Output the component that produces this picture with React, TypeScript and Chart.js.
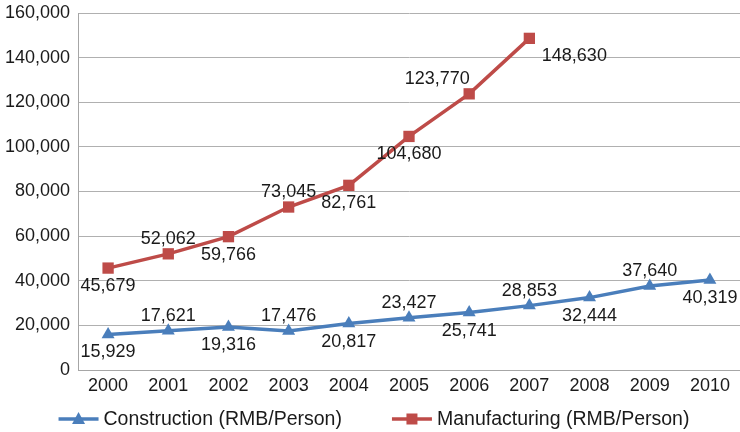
import React, { useEffect, useRef } from "react";
import { Chart, registerables } from "chart.js";

Chart.register(...registerables);

const years = ["2000", "2001", "2002", "2003", "2004", "2005", "2006", "2007", "2008", "2009", "2010"];
const construction = [15929, 17621, 19316, 17476, 20817, 23427, 25741, 28853, 32444, 37640, 40319];
const manufacturing = [45679, 52062, 59766, 73045, 82761, 104680, 123770, 148630];
const constructionLabelPos = ["below", "above", "below", "above", "below", "above", "below", "above", "below", "above", "below"];
const manufacturingLabelPos = ["below", "above", "below", "above", "below", "below", "aboveLeft", "belowRight"];
const seriesNames = ["Construction (RMB/Person)", "Manufacturing (RMB/Person)"];

const BLUE = "#4A7EBB";
const RED = "#BE4B48";
const FONT = "'Liberation Sans', Arial, sans-serif";
const FS = 18;
const LEGEND_FS = 19.5;

const OFFSETS: Record<string, [number, number]> = {
  above: [0, -15],
  below: [0, 18],
  aboveLeft: [-32, -15],
  belowRight: [45, 18],
};

const fmt = (v: number) => v.toLocaleString("en-US");

function drawMarker(ctx: CanvasRenderingContext2D, style: string, x: number, y: number) {
  ctx.beginPath();
  if (style === "triangle") {
    ctx.moveTo(x, y - 7);
    ctx.lineTo(x + 6.5, y + 5);
    ctx.lineTo(x - 6.5, y + 5);
    ctx.closePath();
  } else {
    ctx.rect(x - 5.5, y - 5.5, 11, 11);
  }
  ctx.fill();
}

const labelPlugin = {
  id: "valueLabels",
  afterDatasetsDraw(chart: any) {
    const ctx = chart.ctx;
    const positions = [constructionLabelPos, manufacturingLabelPos];
    ctx.save();
    ctx.font = `${FS}px ${FONT}`;
    ctx.fillStyle = "#1a1a1a";
    ctx.textAlign = "center";
    ctx.textBaseline = "middle";
    chart.data.datasets.forEach((ds: any, di: number) => {
      const meta = chart.getDatasetMeta(di);
      meta.data.forEach((pt: any, i: number) => {
        const v = ds.data[i];
        if (v == null) return;
        const [dx, dy] = OFFSETS[positions[di][i]] || [0, -15];
        ctx.fillText(fmt(v), pt.x + dx, pt.y + dy);
      });
    });
    ctx.restore();
  },
};

const legendPlugin = {
  id: "lineLegend",
  afterDraw(chart: any) {
    const ctx = chart.ctx;
    const y = 419;
    const iconW = 40;
    const textGap = 5;
    const itemGap = 50;
    ctx.save();
    ctx.font = `${LEGEND_FS}px ${FONT}`;
    const widths = chart.data.datasets.map((ds: any) => ctx.measureText(ds.label).width);
    const total = widths.reduce((a: number, w: number) => a + iconW + textGap + w, 0) + itemGap * (widths.length - 1);
    let x = (chart.width - total) / 2 + 4;
    chart.data.datasets.forEach((ds: any, i: number) => {
      ctx.strokeStyle = ds.borderColor;
      ctx.fillStyle = ds.borderColor;
      ctx.lineWidth = 3.5;
      ctx.beginPath();
      ctx.moveTo(x, y);
      ctx.lineTo(x + iconW, y);
      ctx.stroke();
      drawMarker(ctx, ds.pointStyle, x + iconW / 2, y);
      ctx.fillStyle = "#1a1a1a";
      ctx.textAlign = "left";
      ctx.textBaseline = "middle";
      ctx.fillText(ds.label, x + iconW + textGap, y + 1);
      x += iconW + textGap + widths[i] + itemGap;
    });
    ctx.restore();
  },
};

export default function App() {
  const ref = useRef<HTMLCanvasElement>(null);
  useEffect(() => {
    document.body.style.margin = "0";
    const manuData: (number | null)[] = years.map((_, i) => (i < manufacturing.length ? manufacturing[i] : null));
    const chart = new Chart(ref.current!, {
      type: "line",
      data: {
        labels: years,
        datasets: [
          {
            label: seriesNames[0],
            data: construction,
            borderColor: BLUE,
            backgroundColor: BLUE,
            borderWidth: 3.5,
            pointStyle: "triangle",
            pointRadius: 7.5,
            pointBorderWidth: 0,
            tension: 0,
          },
          {
            label: seriesNames[1],
            data: manuData,
            borderColor: RED,
            backgroundColor: RED,
            borderWidth: 3.5,
            pointStyle: "rect",
            pointRadius: 8,
            pointBorderWidth: 0,
            tension: 0,
          },
        ],
      },
      options: {
        animation: false,
        responsive: false,
        maintainAspectRatio: false,
        layout: { autoPadding: false, padding: { left: 5, right: 0, top: 13, bottom: 35 } },
        scales: {
          x: {
            offset: true,
            grid: { display: false, drawTicks: false },
            border: { display: true, color: "#a6a6a6", width: 1 },
            ticks: { color: "#1a1a1a", font: { family: FONT, size: FS }, padding: 5 },
            afterFit: (s: any) => {
              s.paddingLeft = 0;
              s.paddingRight = 0;
              s.height = 27;
            },
          },
          y: {
            min: 0,
            max: 160000,
            grid: { color: "#b0b0b0", lineWidth: 1, drawTicks: false },
            border: { display: true, color: "#a6a6a6", width: 1 },
            ticks: {
              stepSize: 20000,
              autoSkip: false,
              color: "#1a1a1a",
              font: { family: FONT, size: FS },
              padding: 8,
              callback: (v: any) => fmt(Number(v)),
            },
            afterFit: (s: any) => {
              s.paddingTop = 0;
              s.paddingBottom = 0;
              s.width = 73;
            },
          },
        },
        plugins: {
          tooltip: { enabled: false },
          legend: { display: false },
        },
      },
      plugins: [labelPlugin, legendPlugin],
    });
    return () => chart.destroy();
  }, []);
  return (
    <div style={{ width: 740, height: 432 }}>
      <canvas ref={ref} width={740} height={432} style={{ width: 740, height: 432, display: "block" }} />
    </div>
  );
}
